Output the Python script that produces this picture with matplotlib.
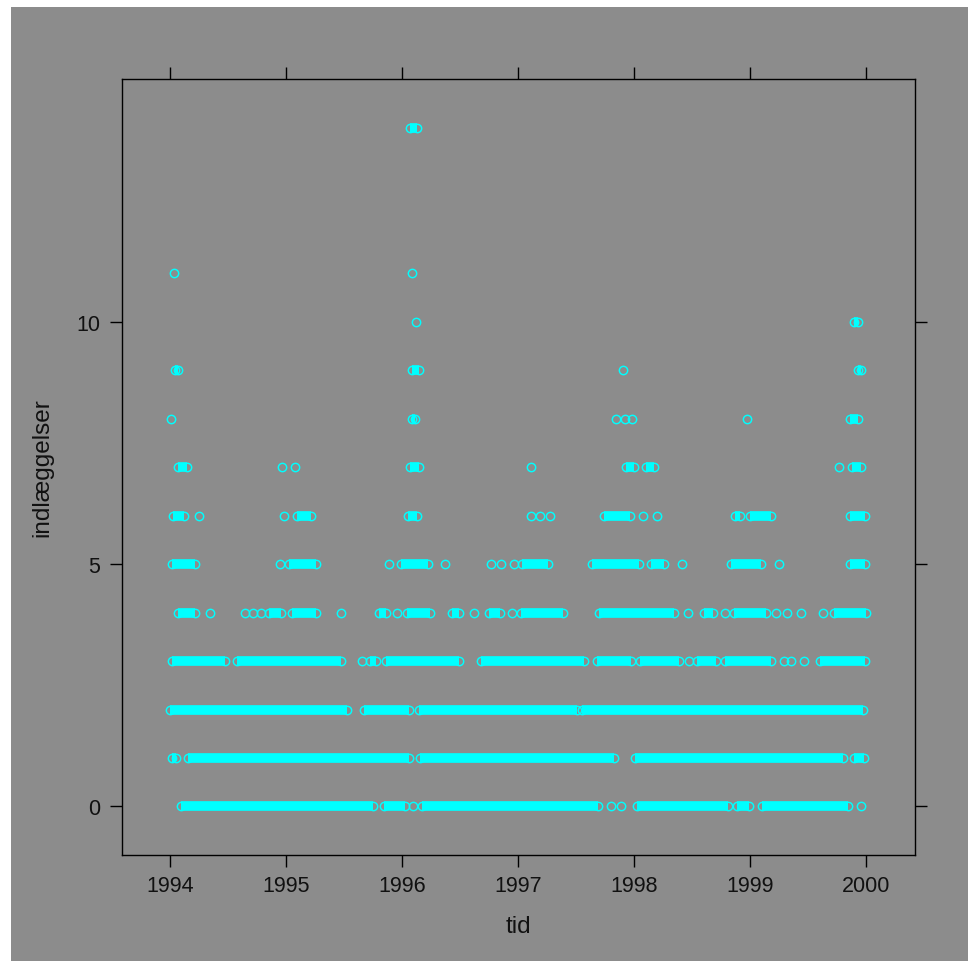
import matplotlib
matplotlib.use("Agg")
import matplotlib.pyplot as plt
from matplotlib.patches import Rectangle

# daily admissions, read off the picture as stretches of consecutive days
# (start, end) in decimal years; start == end is a single day
runs_0 = [(1994.097, 1995.750), (1995.847, 1996.022), (1996.094, 1996.094),
          (1996.168, 1997.687), (1997.798, 1997.798), (1997.884, 1997.884),
          (1998.027, 1998.805), (1998.888, 1998.991), (1999.103, 1999.838),
          (1999.953, 1999.953)]
runs_1 = [(1994.020, 1994.054), (1994.154, 1996.060), (1996.157, 1997.829),
          (1998.008, 1999.795), (1999.893, 1999.981)]
runs_2 = [(1994.003, 1995.526), (1995.675, 1996.060), (1996.148, 1997.508),
          (1997.551, 1999.973)]
runs_3 = [(1994.020, 1994.473), (1994.579, 1995.477), (1995.655, 1995.655),
          (1995.727, 1995.778), (1995.862, 1996.490), (1996.679, 1997.571),
          (1997.683, 1997.973), (1998.048, 1998.389), (1998.472, 1998.472),
          (1998.541, 1998.705), (1998.780, 1999.178), (1999.290, 1999.290),
          (1999.353, 1999.353), (1999.462, 1999.462), (1999.600, 1999.990)]
runs_4 = [(1994.068, 1994.214), (1994.349, 1994.349), (1994.645, 1994.645),
          (1994.714, 1994.714), (1994.782, 1994.782), (1994.851, 1994.961),
          (1995.053, 1995.262), (1995.474, 1995.474), (1995.804, 1995.864),
          (1995.956, 1995.956), (1996.043, 1996.237), (1996.432, 1996.493),
          (1996.622, 1996.622), (1996.751, 1996.840), (1996.946, 1996.946),
          (1997.024, 1997.385), (1997.698, 1998.346), (1998.464, 1998.464),
          (1998.601, 1998.676), (1998.782, 1998.782), (1998.860, 1999.135),
          (1999.221, 1999.221), (1999.318, 1999.318), (1999.434, 1999.434),
          (1999.628, 1999.628), (1999.720, 1999.996)]
runs_5 = [(1994.016, 1994.220), (1994.952, 1994.952), (1995.029, 1995.262),
          (1995.890, 1995.890), (1995.991, 1996.223), (1996.370, 1996.370),
          (1996.768, 1996.768), (1996.852, 1996.852), (1996.966, 1996.966),
          (1997.035, 1997.259), (1997.640, 1998.045), (1998.143, 1998.260),
          (1998.410, 1998.410), (1998.831, 1999.092), (1999.250, 1999.250),
          (1999.858, 1999.990)]
runs_6 = [(1994.031, 1994.123), (1994.249, 1994.249), (1994.986, 1994.986),
          (1995.092, 1995.213), (1996.054, 1996.129), (1997.112, 1997.112),
          (1997.190, 1997.190), (1997.276, 1997.276), (1997.741, 1997.967),
          (1998.076, 1998.076), (1998.194, 1998.194), (1998.866, 1998.911),
          (1998.997, 1999.178), (1999.858, 1999.990)]
runs_7 = [(1994.068, 1994.151), (1994.967, 1994.967), (1995.075, 1995.075),
          (1996.071, 1996.146), (1997.112, 1997.112), (1997.928, 1998.001),
          (1998.105, 1998.169), (1999.763, 1999.763), (1999.878, 1999.953)]
runs_8 = [(1994.014, 1994.014), (1996.086, 1996.108), (1997.844, 1997.844),
          (1997.921, 1997.921), (1997.984, 1997.984), (1998.969, 1998.969),
          (1999.858, 1999.924)]
runs_9 = [(1994.048, 1994.071), (1996.086, 1996.146), (1997.902, 1997.902),
          (1999.927, 1999.953)]
runs_10 = [(1996.120, 1996.120), (1999.893, 1999.924)]
runs_11 = [(1994.034, 1994.034), (1996.088, 1996.088)]
runs_14 = [(1996.068, 1996.129)]

levels = [(0, runs_0), (1, runs_1), (2, runs_2), (3, runs_3), (4, runs_4),
          (5, runs_5), (6, runs_6), (7, runs_7), (8, runs_8), (9, runs_9),
          (10, runs_10), (11, runs_11), (14, runs_14)]

year_ticks = [1994, 1995, 1996, 1997, 1998, 1999, 2000]
count_ticks = [0, 5, 10]

plt.rcParams['font.family'] = ['Liberation Sans', 'DejaVu Sans']

BG = '#8c8c8c'
PT = 'cyan'

fig = plt.figure(figsize=(9.68, 9.62), dpi=100, facecolor='white')
# grey panel, leaving a thin white strip at the left and top
bg = Rectangle((11 / 968, 0), 1, 1 - 8 / 962, transform=fig.transFigure,
               facecolor=BG, edgecolor='none', zorder=-10)
fig.add_artist(bg)

ax = fig.add_axes([0.1257, 0.1107, 0.8192, 0.8061])
ax.set_facecolor(BG)

for y, runs in levels:
    xs_single = []
    for start, end in runs:
        if end > start:
            ax.plot([start, end], [y, y], color=PT, lw=7.0, solid_capstyle='butt', zorder=2)
        xs_single += [start, end] if end > start else [start]
    ax.plot(xs_single, [y] * len(xs_single), ls='none', marker='o', ms=6.0,
            mfc='none', mec=PT, mew=1.05, zorder=3)

ax.set_xlim(1993.585, 2000.415)
ax.set_ylim(-0.99, 15.0)

ax.set_xticks(year_ticks)
ax.set_xticklabels([str(t) for t in year_ticks])
ax.set_yticks(count_ticks)
ax.set_yticklabels([str(t) for t in count_ticks])
ax.tick_params(direction='out', length=8.6, width=1.0, color='black',
               labelsize=15.5, labelcolor='#111111', top=True, right=True, pad=6)
ax.tick_params(axis='y', pad=7)
for s in ax.spines.values():
    s.set_color('black')
    s.set_linewidth(1.0)

ax.set_xlabel('tid', fontsize=17.5, color='#111111', labelpad=14)
ax.set_ylabel('indlæggelser', fontsize=17.5, color='#111111', labelpad=16)

fig.savefig('out.png', dpi=100, facecolor=fig.get_facecolor())
